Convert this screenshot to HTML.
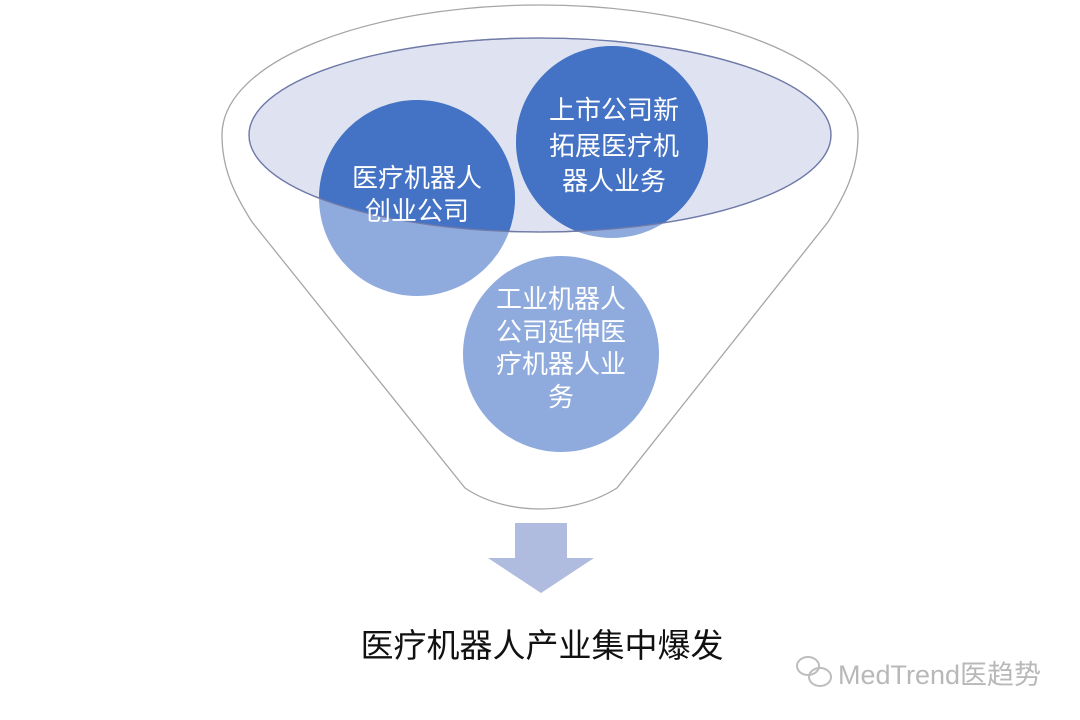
<!DOCTYPE html>
<html><head><meta charset="utf-8"><style>
html,body{margin:0;padding:0;background:#fff;width:1080px;height:720px;overflow:hidden}
svg text{font-family:"Liberation Sans","Noto Sans CJK SC",sans-serif}
</style></head><body>
<svg width="1080" height="720" viewBox="0 0 1080 720">
<defs>
<clipPath id="ec"><ellipse cx="540" cy="135" rx="291" ry="97"/></clipPath>
</defs>
<path d="M540,5 C710,5 858,60 858,135 C858,170 845,195 828,222 L617,488 C590,505 560,509 541,509 C520,509 490,505 465,488 L252,222 C235,195 222,170 222,135 C222,60 370,5 540,5 Z" fill="#fff" stroke="#a6a6a6" stroke-width="1.3"/>
<ellipse cx="540" cy="135" rx="291" ry="97" fill="#dfe3f1" stroke="#8a93b8" stroke-width="1.3"/>
<circle cx="417" cy="198" r="98" fill="#8faadc"/>
<circle cx="612" cy="142" r="96" fill="#8faadc"/>
<circle cx="561" cy="354" r="98" fill="#8faadc"/>
<g clip-path="url(#ec)">
<circle cx="417" cy="198" r="98" fill="#4472c4"/>
<circle cx="612" cy="142" r="96" fill="#4472c4"/>
</g>
<ellipse cx="540" cy="135" rx="291" ry="97" fill="none" stroke="#6f7aa8" stroke-width="1.3"/>
<g fill="#fff" font-size="26" text-anchor="middle">
<text x="417" y="187">医疗机器人</text>
<text x="417" y="220">创业公司</text>
<text x="614" y="119">上市公司新</text>
<text x="614" y="155">拓展医疗机</text>
<text x="614" y="190">器人业务</text>
<text x="561" y="308">工业机器人</text>
<text x="561" y="341">公司延伸医</text>
<text x="561" y="373">疗机器人业</text>
<text x="561" y="406">务</text>
</g>
<path d="M515,523 H567 V558 H594 L541,593 L488,558 H515 Z" fill="#afbbdf"/>
<text x="542" y="657" font-size="33" text-anchor="middle" fill="#111">医疗机器人产业集中爆发</text>
<text x="838" y="684" font-size="27" fill="#b8b8b8">MedTrend医趋势</text>
<g fill="none" stroke="#bdbdbd" stroke-width="2">
<ellipse cx="808" cy="666" rx="11" ry="9"/>
<ellipse cx="820" cy="677" rx="11" ry="9"/>
</g>
</svg>
</body></html>
